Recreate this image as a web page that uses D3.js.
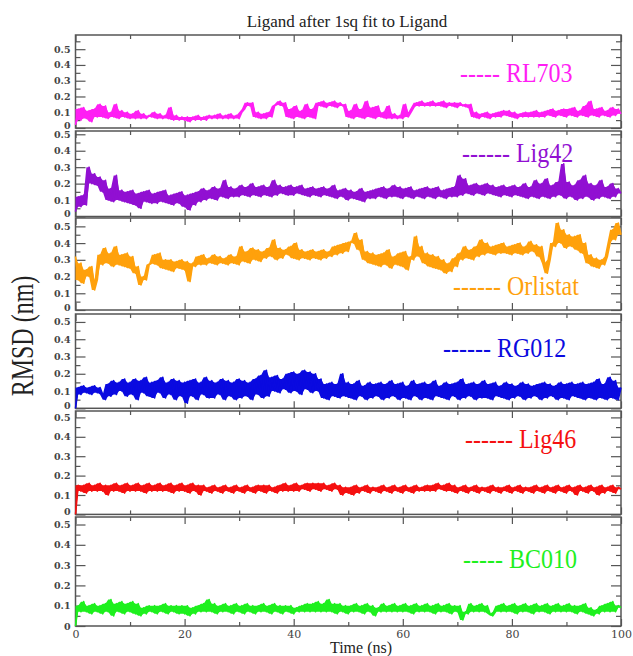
<!DOCTYPE html>
<html>
<head>
<meta charset="utf-8">
<script src="https://cdn.jsdelivr.net/npm/d3@7"></script>
<style>
body { margin: 0; background: #fff; }
svg { display: block; }
</style>
</head>
<body>
<svg id="chart" width="633" height="656"></svg>
<script>
// RMSD traces, one value every 0.5 ns from 0 to 100 ns
var timeStep = 0.5;
var names = ["RL703", "Lig42", "Orlistat", "RG012", "Lig46", "BC010"];
var dashes = ["-----", "------", "------", "------", "------", "-----"];
var xTicks = [0, 20, 40, 60, 80, 100];
var yTicks = [0, 0.1, 0.2, 0.3, 0.4, 0.5];

var rl703 = [
	0.02,0.12,0.05,0.13,0.06,0.11,0.04,0.12,0.07,0.15,
	0.07,0.14,0.06,0.10,0.07,0.15,0.06,0.11,0.07,0.10,
	0.06,0.09,0.06,0.11,0.06,0.09,0.06,0.08,0.07,0.10,
	0.06,0.09,0.06,0.08,0.06,0.13,0.05,0.08,0.05,0.07,
	0.05,0.07,0.04,0.07,0.05,0.08,0.05,0.07,0.05,0.08,
	0.06,0.08,0.06,0.09,0.06,0.08,0.06,0.09,0.06,0.08,
	0.06,0.10,0.12,0.16,0.14,0.16,0.07,0.10,0.06,0.09,
	0.06,0.10,0.07,0.14,0.15,0.17,0.14,0.16,0.07,0.12,
	0.06,0.14,0.07,0.11,0.06,0.15,0.07,0.12,0.06,0.16,
	0.14,0.17,0.13,0.16,0.14,0.17,0.13,0.16,0.14,0.15,
	0.07,0.11,0.06,0.15,0.07,0.12,0.06,0.17,0.07,0.13,
	0.06,0.14,0.07,0.10,0.06,0.14,0.06,0.09,0.06,0.08,
	0.06,0.15,0.07,0.10,0.13,0.16,0.14,0.17,0.14,0.16,
	0.14,0.17,0.14,0.16,0.14,0.17,0.13,0.16,0.14,0.16,
	0.13,0.16,0.14,0.15,0.13,0.15,0.07,0.10,0.06,0.09,
	0.07,0.10,0.06,0.09,0.07,0.10,0.07,0.11,0.08,0.11,
	0.07,0.10,0.06,0.09,0.07,0.10,0.07,0.10,0.07,0.11,
	0.07,0.10,0.07,0.11,0.08,0.12,0.07,0.11,0.08,0.12,
	0.07,0.12,0.08,0.13,0.07,0.11,0.08,0.14,0.07,0.17,
	0.08,0.12,0.07,0.13,0.08,0.11,0.07,0.13,0.08,0.12,
	0.09
];
var lig42 = [
	0.03,0.12,0.06,0.13,0.07,0.30,0.20,0.26,0.19,0.24,
	0.15,0.22,0.10,0.17,0.09,0.25,0.10,0.16,0.09,0.15,
	0.08,0.16,0.07,0.14,0.05,0.15,0.09,0.16,0.08,0.14,
	0.08,0.15,0.09,0.16,0.08,0.13,0.07,0.14,0.08,0.15,
	0.06,0.13,0.04,0.14,0.07,0.15,0.09,0.17,0.10,0.16,
	0.11,0.18,0.10,0.17,0.12,0.22,0.11,0.18,0.12,0.17,
	0.12,0.19,0.13,0.18,0.12,0.20,0.13,0.18,0.12,0.19,
	0.13,0.18,0.12,0.22,0.13,0.19,0.14,0.18,0.13,0.19,
	0.13,0.18,0.14,0.19,0.13,0.17,0.12,0.18,0.13,0.17,
	0.12,0.18,0.13,0.17,0.12,0.19,0.11,0.16,0.12,0.17,
	0.10,0.16,0.11,0.15,0.10,0.17,0.09,0.15,0.11,0.16,
	0.11,0.17,0.12,0.18,0.11,0.17,0.12,0.19,0.12,0.18,
	0.11,0.17,0.12,0.18,0.11,0.16,0.12,0.17,0.11,0.18,
	0.12,0.17,0.11,0.18,0.12,0.16,0.11,0.17,0.12,0.18,
	0.12,0.25,0.13,0.23,0.14,0.19,0.13,0.20,0.14,0.19,
	0.13,0.20,0.14,0.19,0.13,0.18,0.12,0.19,0.13,0.18,
	0.12,0.19,0.13,0.18,0.12,0.20,0.11,0.18,0.12,0.22,
	0.11,0.20,0.12,0.23,0.11,0.19,0.12,0.21,0.13,0.32,
	0.11,0.21,0.12,0.19,0.10,0.22,0.11,0.25,0.12,0.20,
	0.10,0.19,0.11,0.22,0.12,0.18,0.11,0.20,0.12,0.17,
	0.14
];
var orlistat = [
	0.32,0.18,0.28,0.16,0.24,0.20,0.26,0.12,0.18,0.33,
	0.27,0.37,0.28,0.34,0.26,0.38,0.27,0.33,0.26,0.34,
	0.25,0.32,0.22,0.26,0.15,0.20,0.18,0.27,0.28,0.33,
	0.27,0.34,0.25,0.30,0.24,0.30,0.23,0.29,0.25,0.30,
	0.24,0.29,0.17,0.28,0.26,0.32,0.27,0.33,0.27,0.31,
	0.28,0.33,0.27,0.32,0.28,0.31,0.27,0.33,0.28,0.32,
	0.27,0.38,0.29,0.35,0.28,0.37,0.30,0.36,0.29,0.35,
	0.31,0.37,0.32,0.42,0.30,0.37,0.31,0.36,0.33,0.38,
	0.31,0.40,0.30,0.36,0.31,0.35,0.30,0.36,0.31,0.35,
	0.30,0.36,0.31,0.35,0.32,0.38,0.33,0.39,0.34,0.40,
	0.35,0.41,0.40,0.46,0.36,0.42,0.30,0.35,0.28,0.34,
	0.27,0.33,0.26,0.34,0.27,0.36,0.25,0.32,0.27,0.34,
	0.26,0.35,0.24,0.32,0.30,0.44,0.32,0.38,0.28,0.34,
	0.26,0.33,0.25,0.32,0.24,0.30,0.22,0.28,0.23,0.31,
	0.26,0.34,0.30,0.38,0.31,0.36,0.30,0.38,0.32,0.42,
	0.33,0.40,0.34,0.38,0.33,0.39,0.34,0.40,0.34,0.38,
	0.33,0.39,0.34,0.40,0.33,0.38,0.34,0.41,0.35,0.39,
	0.32,0.38,0.28,0.22,0.30,0.40,0.38,0.52,0.40,0.48,
	0.37,0.45,0.38,0.44,0.36,0.45,0.34,0.40,0.28,0.33,
	0.26,0.31,0.25,0.30,0.27,0.32,0.40,0.48,0.42,0.52,
	0.45
];
var rg012 = [
	0.00,0.12,0.08,0.13,0.09,0.12,0.08,0.13,0.09,0.12,
	0.08,0.05,0.14,0.07,0.16,0.08,0.15,0.10,0.17,0.07,
	0.15,0.08,0.17,0.05,0.16,0.09,0.18,0.07,0.15,0.06,
	0.16,0.09,0.18,0.06,0.15,0.08,0.17,0.05,0.16,0.07,
	0.15,0.03,0.16,0.07,0.17,0.05,0.15,0.08,0.18,0.06,
	0.16,0.06,0.15,0.08,0.17,0.05,0.16,0.07,0.15,0.05,
	0.17,0.06,0.16,0.07,0.15,0.05,0.17,0.08,0.19,0.06,
	0.22,0.07,0.18,0.10,0.19,0.09,0.17,0.11,0.20,0.09,
	0.21,0.10,0.20,0.08,0.22,0.11,0.21,0.09,0.20,0.10,
	0.17,0.06,0.14,0.05,0.15,0.07,0.14,0.06,0.20,0.07,
	0.15,0.06,0.14,0.05,0.16,0.07,0.13,0.05,0.15,0.06,
	0.14,0.07,0.15,0.05,0.14,0.06,0.16,0.07,0.14,0.05,
	0.15,0.06,0.13,0.05,0.16,0.07,0.14,0.05,0.15,0.06,
	0.14,0.05,0.16,0.07,0.13,0.06,0.15,0.05,0.14,0.07,
	0.15,0.05,0.17,0.06,0.14,0.07,0.15,0.05,0.14,0.06,
	0.16,0.06,0.14,0.05,0.15,0.07,0.13,0.06,0.15,0.05,
	0.14,0.06,0.13,0.07,0.15,0.05,0.14,0.06,0.13,0.07,
	0.14,0.05,0.15,0.06,0.14,0.07,0.13,0.05,0.15,0.06,
	0.14,0.05,0.15,0.07,0.14,0.06,0.15,0.05,0.14,0.06,
	0.15,0.05,0.17,0.06,0.14,0.05,0.18,0.06,0.16,0.05,
	0.12
];
var lig46 = [
	0.00,0.15,0.12,0.15,0.11,0.16,0.12,0.15,0.12,0.16,
	0.12,0.15,0.10,0.15,0.12,0.16,0.12,0.15,0.11,0.16,
	0.12,0.15,0.12,0.16,0.12,0.15,0.11,0.16,0.12,0.15,
	0.12,0.16,0.12,0.15,0.12,0.16,0.11,0.15,0.12,0.16,
	0.12,0.15,0.11,0.16,0.12,0.15,0.10,0.15,0.12,0.14,
	0.11,0.15,0.12,0.14,0.11,0.15,0.12,0.14,0.11,0.15,
	0.12,0.14,0.11,0.15,0.12,0.14,0.11,0.15,0.12,0.15,
	0.11,0.15,0.12,0.14,0.11,0.15,0.12,0.16,0.12,0.15,
	0.12,0.16,0.12,0.15,0.13,0.16,0.12,0.16,0.13,0.16,
	0.12,0.16,0.13,0.15,0.12,0.16,0.13,0.15,0.10,0.14,
	0.11,0.14,0.10,0.15,0.11,0.14,0.12,0.15,0.11,0.14,
	0.12,0.14,0.11,0.15,0.12,0.14,0.11,0.15,0.12,0.14,
	0.11,0.15,0.12,0.14,0.11,0.15,0.12,0.14,0.12,0.15,
	0.12,0.15,0.12,0.16,0.13,0.15,0.12,0.16,0.12,0.15,
	0.11,0.14,0.12,0.15,0.11,0.14,0.12,0.15,0.11,0.14,
	0.12,0.14,0.11,0.15,0.12,0.14,0.11,0.14,0.12,0.15,
	0.11,0.14,0.12,0.15,0.11,0.14,0.12,0.14,0.11,0.15,
	0.12,0.14,0.11,0.15,0.12,0.14,0.11,0.15,0.12,0.14,
	0.11,0.15,0.12,0.14,0.10,0.15,0.12,0.14,0.11,0.15,
	0.12,0.14,0.10,0.15,0.11,0.14,0.12,0.15,0.11,0.14,
	0.13
];
var bc010 = [
	0.00,0.10,0.07,0.12,0.07,0.10,0.06,0.11,0.07,0.10,
	0.06,0.11,0.07,0.13,0.05,0.11,0.07,0.12,0.06,0.11,
	0.07,0.12,0.06,0.11,0.05,0.09,0.06,0.10,0.07,0.10,
	0.06,0.10,0.07,0.11,0.06,0.10,0.07,0.10,0.06,0.10,
	0.06,0.10,0.05,0.09,0.06,0.10,0.07,0.11,0.07,0.13,
	0.07,0.11,0.06,0.10,0.07,0.11,0.07,0.10,0.06,0.11,
	0.07,0.10,0.06,0.11,0.07,0.10,0.06,0.10,0.07,0.11,
	0.07,0.10,0.06,0.11,0.07,0.10,0.06,0.10,0.07,0.10,
	0.06,0.09,0.07,0.10,0.07,0.11,0.07,0.11,0.07,0.12,
	0.07,0.11,0.07,0.13,0.07,0.11,0.06,0.11,0.07,0.10,
	0.06,0.10,0.07,0.11,0.07,0.10,0.06,0.11,0.07,0.10,
	0.05,0.09,0.07,0.11,0.07,0.10,0.07,0.11,0.07,0.10,
	0.07,0.11,0.07,0.10,0.06,0.11,0.07,0.10,0.07,0.11,
	0.07,0.10,0.06,0.11,0.07,0.10,0.07,0.11,0.06,0.10,
	0.07,0.10,0.03,0.07,0.06,0.11,0.07,0.10,0.07,0.11,
	0.07,0.10,0.06,0.05,0.07,0.10,0.07,0.11,0.07,0.10,
	0.07,0.11,0.06,0.10,0.07,0.11,0.07,0.10,0.06,0.11,
	0.07,0.10,0.07,0.11,0.06,0.10,0.07,0.11,0.07,0.10,
	0.07,0.11,0.07,0.10,0.06,0.10,0.07,0.11,0.06,0.09,
	0.05,0.08,0.06,0.10,0.07,0.11,0.07,0.12,0.07,0.10,
	0.09
];
var series = [rl703, lig42, orlistat, rg012, lig46, bc010];

// look
var colors = ["#ff1ef4", "#9110d2", "#ffa10c", "#0a0ae0", "#f51010", "#1ef01e"];
var panelTop = [35, 131, 218, 314, 411, 517];
var panelBottom = [128, 216.5, 310, 408.3, 514.4, 626];
var panelMax = [0.59, 0.52, 0.55, 0.546, 0.533, 0.537];
var legendPos = [[460, 82], [462, 162], [453, 295], [443, 357], [465, 448], [463, 568]];
var frameColor = "#555";
var serif = "Liberation Serif, Tinos, Times New Roman, Times, DejaVu Serif, serif";

var svg = d3.select("#chart");
var x = d3.scaleLinear().domain([0, 100]).range([75.5, 621]);

// title
svg.append("text")
	.attr("x", 347)
	.attr("y", 27)
	.attr("text-anchor", "middle")
	.attr("font-family", serif)
	.attr("font-size", 17)
	.attr("fill", "#222")
	.text("Ligand after 1sq fit to Ligand");

function styleAxis(g) {
	g.select(".domain").remove();
	g.selectAll(".tick line").attr("stroke", frameColor).attr("stroke-width", 1.2);
	g.selectAll(".tick text").attr("fill", "#444");
}

for (var i = 0; i < series.length; i++) {
	var y = d3.scaleLinear()
		.domain([0, panelMax[i]])
		.range([panelBottom[i], panelTop[i]]);
	var g = svg.append("g");
	var last = (i === series.length - 1);

	// x ticks on top and bottom, pointing inward
	var bottom = g.append("g")
		.attr("transform", "translate(0," + panelBottom[i] + ")")
		.call(d3.axisBottom(x).tickValues(xTicks).tickSize(-7).tickPadding(4)
			.tickFormat(last ? d3.format("d") : ""));
	bottom.call(styleAxis);
	bottom.selectAll(".tick text")
		.attr("font-family", "DejaVu Serif, serif")
		.attr("font-size", 11);
	g.append("g")
		.attr("transform", "translate(0," + panelBottom[i] + ")")
		.call(d3.axisBottom(x).tickValues(d3.range(10, 100, 20)).tickSize(-4).tickFormat(""))
		.call(styleAxis);
	g.append("g")
		.attr("transform", "translate(0," + panelTop[i] + ")")
		.call(d3.axisTop(x).tickValues(xTicks).tickSize(-7).tickFormat(""))
		.call(styleAxis);
	g.append("g")
		.attr("transform", "translate(0," + panelTop[i] + ")")
		.call(d3.axisTop(x).tickValues(d3.range(10, 100, 20)).tickSize(-4).tickFormat(""))
		.call(styleAxis);

	// y ticks left (labelled) and right
	var left = g.append("g")
		.attr("transform", "translate(" + x(0) + ",0)")
		.call(d3.axisLeft(y).tickValues(yTicks).tickSize(-10).tickPadding(5)
			.tickFormat(function(d) { return d === 0 ? "0" : d3.format(".1f")(d); }));
	left.call(styleAxis);
	left.selectAll(".tick text")
		.attr("font-family", "DejaVu Serif, serif")
		.attr("font-weight", "bold")
		.attr("font-size", 9.5);
	// the zero label sits right under the next panel's 0.5, lift it a little
	if (!last) {
		left.selectAll(".tick text")
			.filter(function(d) { return d === 0; })
			.attr("dy", "0.05em");
	}
	g.append("g")
		.attr("transform", "translate(" + x(0) + ",0)")
		.call(d3.axisLeft(y).tickValues(d3.range(0.05, panelMax[i], 0.1)).tickSize(-5).tickFormat(""))
		.call(styleAxis);
	g.append("g")
		.attr("transform", "translate(" + x(100) + ",0)")
		.call(d3.axisRight(y).tickValues(yTicks).tickSize(-10).tickFormat(""))
		.call(styleAxis);
	g.append("g")
		.attr("transform", "translate(" + x(100) + ",0)")
		.call(d3.axisRight(y).tickValues(d3.range(0.05, panelMax[i], 0.1)).tickSize(-5).tickFormat(""))
		.call(styleAxis);

	// frame
	g.append("rect")
		.attr("x", x(0))
		.attr("y", panelTop[i])
		.attr("width", x(100) - x(0))
		.attr("height", panelBottom[i] - panelTop[i])
		.attr("fill", "none")
		.attr("stroke", frameColor)
		.attr("stroke-width", 1.5);

	// trace: fill between each sample and the next so the noise reads as a solid band
	var vals = series[i];
	var band = d3.area()
		.x(function(d, k) { return x(k * timeStep); })
		.y0(function(d, k) { return y(Math.min(d, vals[Math.min(k + 1, vals.length - 1)])); })
		.y1(function(d, k) { return y(Math.max(d, vals[Math.min(k + 1, vals.length - 1)])); });
	g.append("path")
		.datum(vals)
		.attr("d", band)
		.attr("fill", colors[i]);
	var line = d3.line()
		.x(function(d, k) { return x(k * timeStep); })
		.y(function(d) { return y(d); });
	g.append("path")
		.datum(vals)
		.attr("d", line)
		.attr("fill", "none")
		.attr("stroke", colors[i])
		.attr("stroke-width", 1.6)
		.attr("stroke-linejoin", "round");

	// legend
	g.append("text")
		.attr("transform", "translate(" + legendPos[i][0] + "," + legendPos[i][1] + ") scale(1,1.1)")
		.attr("font-family", serif)
		.attr("font-size", 24)
		.attr("fill", colors[i])
		.text(dashes[i] + " " + names[i]);
}

// axis titles
svg.append("text")
	.attr("x", 361)
	.attr("y", 653)
	.attr("text-anchor", "middle")
	.attr("font-family", serif)
	.attr("font-size", 16)
	.attr("fill", "#222")
	.text("Time (ns)");

svg.append("text")
	.attr("transform", "translate(33,336) rotate(-90) scale(1,1.35)")
	.attr("text-anchor", "middle")
	.attr("font-family", serif)
	.attr("font-size", 24)
	.attr("fill", "#222")
	.text("RMSD (nm)");
</script>
</body>
</html>
